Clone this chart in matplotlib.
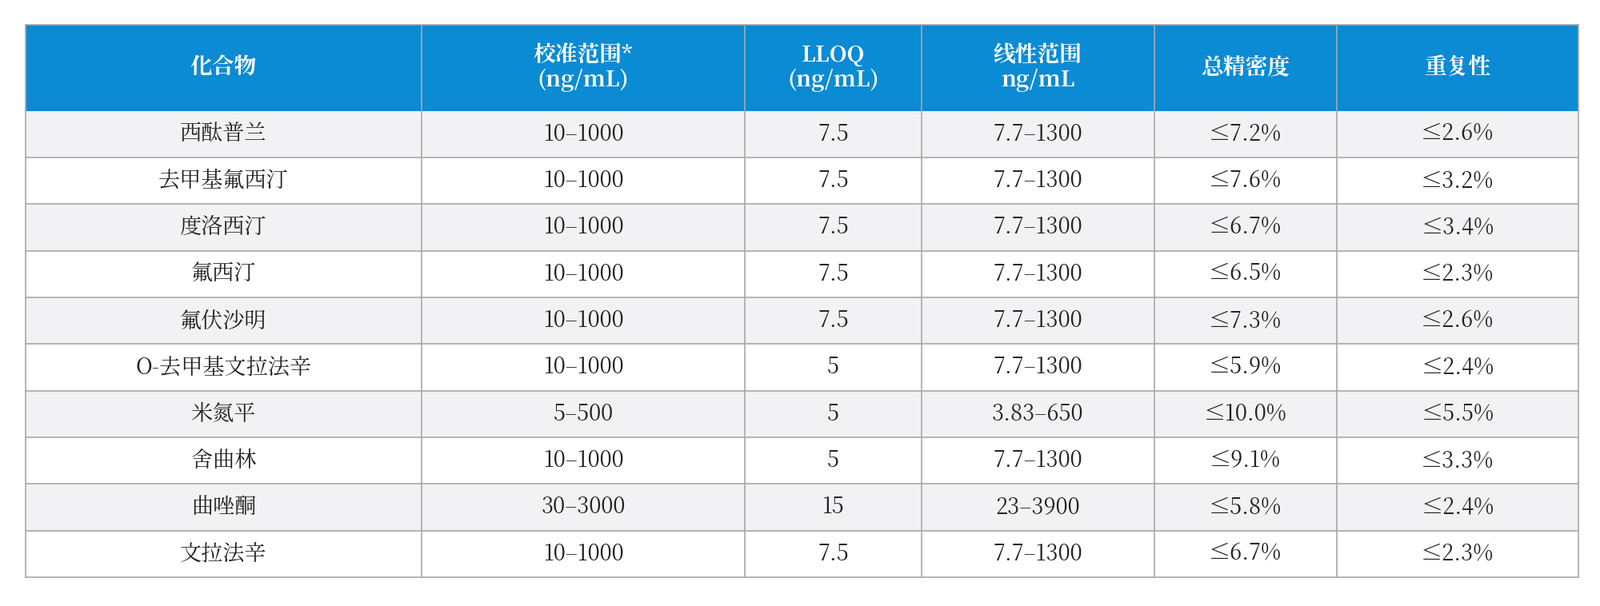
import matplotlib
matplotlib.use("Agg")
import matplotlib.pyplot as plt
from matplotlib import font_manager
from matplotlib.patches import Rectangle

# pick whatever CJK family is actually registered
cjk = [f.name for f in font_manager.fontManager.ttflist if "CJK" in f.name]
sc = [n for n in cjk if n.endswith("SC")]
family = (sc or cjk or ["DejaVu Sans"])[0]
plt.rcParams["font.family"] = [family, "DejaVu Sans"]

headers = ["化合物", "校准范围*\n(ng/mL)", "LLOQ\n(ng/mL)", "线性范围\nng/mL", "总精密度", "重复性"]
compounds = ["西酞普兰", "去甲基氟西汀", "度洛西汀", "氟西汀", "氟伏沙明",
             "O-去甲基文拉法辛", "米氮平", "舍曲林", "曲唑酮", "文拉法辛"]
cal_range = ["10–1000"] * 6 + ["5–500", "10–1000", "30–3000", "10–1000"]
lloq = ["7.5", "7.5", "7.5", "7.5", "7.5", "5", "5", "5", "15", "7.5"]
linear_range = ["7.7–1300"] * 6 + ["3.83–650", "7.7–1300", "23–3900", "7.7–1300"]
precision = ["≤7.2%", "≤7.6%", "≤6.7%", "≤6.5%", "≤7.3%", "≤5.9%", "≤10.0%", "≤9.1%", "≤5.8%", "≤6.7%"]
repeat = ["≤2.6%", "≤3.2%", "≤3.4%", "≤2.3%", "≤2.6%", "≤2.4%", "≤5.5%", "≤3.3%", "≤2.4%", "≤2.3%"]

# layout in reference pixel units (1568 x 590 canvas)
col_edges = [25, 413, 730, 903, 1131, 1310, 1547]
top, head_bot, bottom = 24, 108, 562

fig = plt.figure(figsize=(20, 7.58), dpi=100)
ax = fig.add_axes([0, 0, 1, 1])
ax.set_xlim(0, 1568)
ax.set_ylim(590, 0)
ax.axis("off")

ax.add_patch(Rectangle((col_edges[0], top), col_edges[-1] - col_edges[0], head_bot - top,
                       facecolor="#0b8bd3", edgecolor="none"))
for i, h in enumerate(headers):
    cx = (col_edges[i] + col_edges[i + 1]) / 2
    ax.text(cx, (top + head_bot) / 2, h, ha="center", va="center", color="white",
            fontsize=20, fontweight="bold", linespacing=1.1)

rows = list(zip(compounds, cal_range, lloq, linear_range, precision, repeat))
rh = (bottom - head_bot) / len(rows)
for r, row in enumerate(rows):
    y0 = head_bot + r * rh
    ax.add_patch(Rectangle((col_edges[0], y0), col_edges[-1] - col_edges[0], rh,
                           facecolor="#f2f2f4" if r % 2 == 0 else "white", edgecolor="none"))
    for i, val in enumerate(row):
        cx = (col_edges[i] + col_edges[i + 1]) / 2
        ax.text(cx, y0 + rh / 2, val, ha="center", va="center", color="#222222", fontsize=19.5)
    ax.plot([col_edges[0], col_edges[-1]], [y0 + rh, y0 + rh], color="#a8a8a8", lw=1.2)

for x in col_edges:
    ax.plot([x, x], [top, bottom], color="#a8a8a8", lw=1.2)
ax.plot([col_edges[0], col_edges[-1]], [top, top], color="#a8a8a8", lw=1.2)

fig.savefig("out.png", facecolor="white")
